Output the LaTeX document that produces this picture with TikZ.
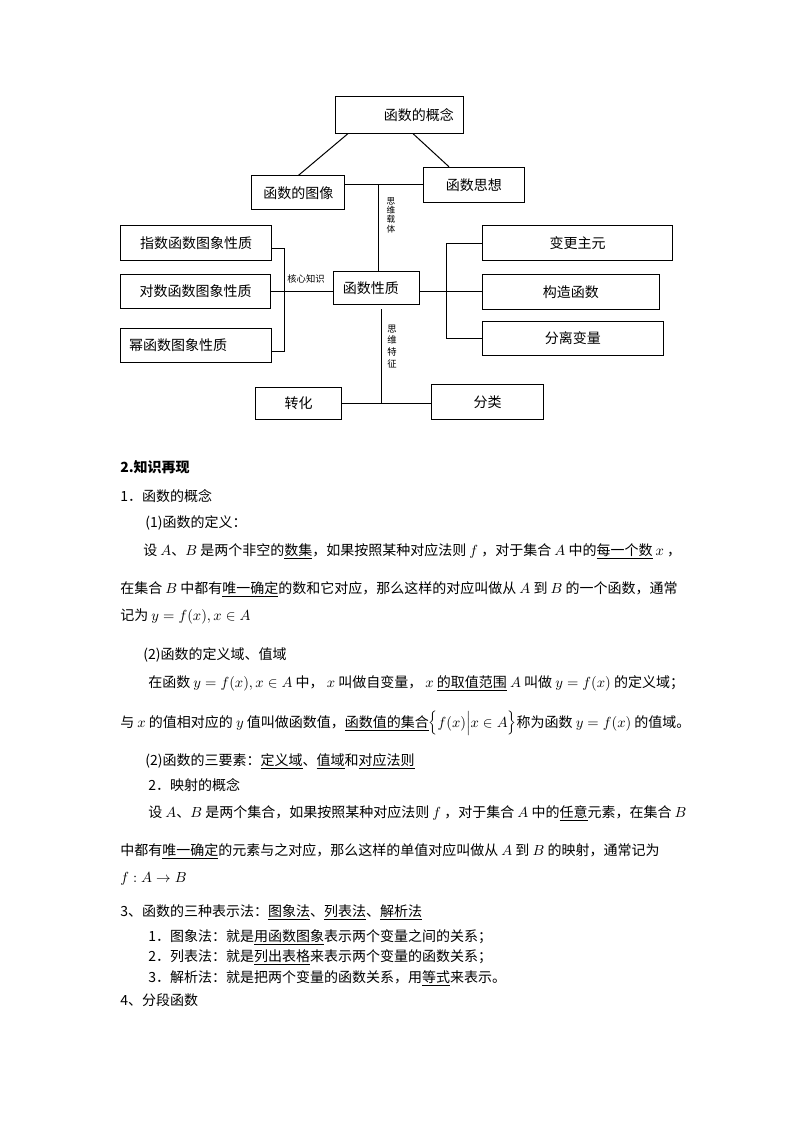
\documentclass[tikz,border=0pt]{standalone}
\usepackage{fontspec}
\setmainfont{Noto Sans CJK SC}

\begin{document}
\begin{tikzpicture}[x=0.75pt,y=-0.75pt,
  box/.style={draw,line width=0.75pt,inner sep=0pt,font=\fontsize{10.5}{12}\selectfont},
  wire/.style={line width=0.75pt},
  lbl/.style={inner sep=0pt,align=center,font=\fontsize{6.5}{7}\selectfont},
  txt/.style={anchor=base west,inner sep=0pt,font=\fontsize{10.5}{12}\selectfont}]
\useasboundingbox (0,0) rectangle (794,1123);
\node[box,minimum width=95.7pt,minimum height=27.5pt] (gainian) at (399.5,115) {\hspace*{29pt}函数的概念};
\node[box,minimum width=70pt,minimum height=25.5pt] (tuxiang) at (298.3,193) {函数的图像};
\node[box,minimum width=75.8pt,minimum height=26.3pt] (sixiang) at (473.8,184.8) {函数思想};
\node[box,minimum width=113.3pt,minimum height=26.3pt] (zhishu) at (196.2,243.2) {指数函数图象性质};
\node[box,minimum width=112.5pt,minimum height=25.5pt] (duishu) at (195.7,291.3) {对数函数图象性质};
\node[box,minimum width=113.3pt,minimum height=25.5pt] (mi) at (196.2,345.3) {幂函数图象性质\hspace*{27pt}};
\node[box,minimum width=64.5pt,minimum height=25pt] (xingzhi) at (376.3,288.3) {函数性质\hspace*{8pt}};
\node[box,minimum width=142.8pt,minimum height=26pt] (biangeng) at (577.5,243.3) {变更主元};
\node[box,minimum width=132.8pt,minimum height=26.3pt] (gouzao) at (570.8,291.8) {构造函数};
\node[box,minimum width=135.8pt,minimum height=25.5pt] (fenli) at (572.8,338) {分离变量};
\node[box,minimum width=64.5pt,minimum height=24pt] (zhuanhua) at (298.7,403.3) {转化};
\node[box,minimum width=83.7pt,minimum height=26.3pt] (fenlei) at (487.5,401.8) {分类};
\node[lbl] (zaiti) at (391,215) {思\\维\\载\\体};
\node[lbl,font=\fontsize{7}{8.8}\selectfont] (tezheng) at (392,346.5) {思\\维\\特\\征};
\node[lbl,font=\fontsize{7}{8}\selectfont] (hexin) at (306,278.5) {核心知识};
\coordinate (midtop) at (378.7,0);
\coordinate (midbot) at (381.7,309.3);
\coordinate (lbar) at (284,0);
\coordinate (rbar) at (446.7,0);
\draw[wire] (gainian.-160) -- (tuxiang.north);
\draw[wire] (gainian.-54) -- (sixiang.144);
\draw[wire] (tuxiang.east |- sixiang.west) -- (sixiang.west);
\draw[wire] (midtop |- sixiang.west) -- (midtop |- xingzhi.north);
\draw[wire] (midbot) -- (midbot |- zhuanhua.east);
\draw[wire] (zhuanhua.east) -- (fenlei.west |- zhuanhua.east);
\draw[wire] ([yshift=-4pt]zhishu.east) -| ([yshift=-4.5pt]lbar |- mi.east) -- ([yshift=-4.5pt]mi.east);
\draw[wire] (duishu.east) -- (xingzhi.west |- duishu.east);
\draw[wire] (biangeng.west) -| (rbar |- fenli.west) -- (fenli.west);
\draw[wire] (xingzhi.east |- gouzao.west) -- (gouzao.west);
\node[txt] (t1) at (120,472) {\textbf{2.知识再现}};
\node[txt] (t2) at (120,501) {1．函数的概念};
\node[txt] (t3) at (145,527) {(1)函数的定义：};
\node[txt] (t4) at (143,555) {设 $A$、$B$ 是两个非空的\underline{数集}，如果按照某种对应法则 $f$ ，对于集合 $A$ 中的\underline{每一个数} $x$ ，};
\node[txt] (t5) at (120,593) {在集合 $B$ 中都有\underline{唯一确定}的数和它对应，那么这样的对应叫做从 $A$ 到 $B$ 的一个函数，通常};
\node[txt] (t6) at (120,620) {记为 $y=f(x),x\in A$};
\node[txt] (t7) at (143,659) {(2)函数的定义域、值域};
\node[txt] (t8) at (148,687) {在函数 $y=f(x),x\in A$ 中， $x$ 叫做自变量， $x$ \underline{的取值范围} $A$ 叫做 $y=f(x)$ 的定义域；};
\node[txt] (t9) at (120,727) {与 $x$ 的值相对应的 $y$ 值叫做函数值，\underline{函数值的集合}$\Bigl\{f(x)\Big|x\in A\Bigr\}$称为函数 $y=f(x)$ 的值域。};
\node[txt] (t10) at (145,765) {(2)函数的三要素：\underline{定义域}、\underline{值域}和\underline{对应法则}};
\node[txt] (t11) at (148,790) {2．映射的概念};
\node[txt] (t12) at (148,817) {设 $A$、$B$ 是两个集合，如果按照某种对应法则 $f$ ，对于集合 $A$ 中的\underline{任意}元素，在集合 $B$};
\node[txt] (t13) at (120,855) {中都有\underline{唯一确定}的元素与之对应，那么这样的单值对应叫做从 $A$ 到 $B$ 的映射，通常记为};
\node[txt] (t14) at (120,882) {$f:A\to B$};
\node[txt] (t15) at (120,916) {3、函数的三种表示法：\underline{图象法}、\underline{列表法}、\underline{解析法}};
\node[txt] (t16) at (148,941) {1．图象法：就是\underline{用函数图象}表示两个变量之间的关系；};
\node[txt] (t17) at (148,961) {2．列表法：就是\underline{列出表格}来表示两个变量的函数关系；};
\node[txt] (t18) at (148,982) {3．解析法：就是把两个变量的函数关系，用\underline{等式}来表示。};
\node[txt] (t19) at (120,1005) {4、分段函数};
\end{tikzpicture}
\end{document}
